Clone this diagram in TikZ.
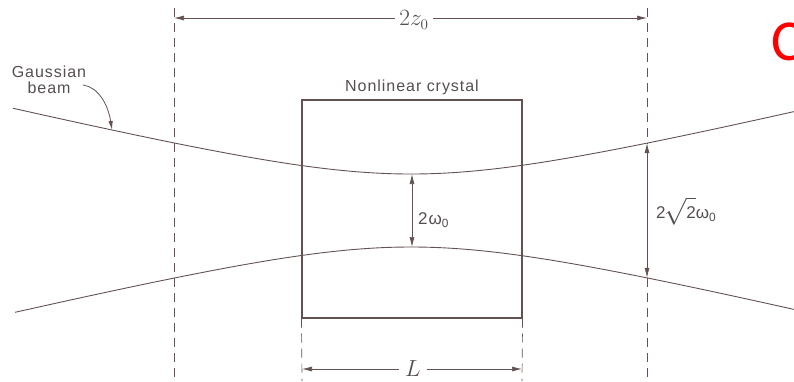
\documentclass[tikz,border=0pt]{standalone}
\usepackage{fontspec}
\setmainfont{Liberation Sans}[LetterSpace=6]
\newfontfamily\redfont{Carlito}
\usetikzlibrary{arrows.meta}
\definecolor{ink}{RGB}{100,82,82}
\definecolor{txt}{RGB}{85,78,78}
\begin{document}
\begin{tikzpicture}[x=1pt,y=-1pt,
  beam/.style={draw=ink, line width=0.9pt},
  dimline/.style={draw=ink, line width=0.7pt, dash pattern=on 9pt off 6pt},
  dimarrow/.style={draw=ink, line width=0.7pt, -{Latex[length=10pt,width=5pt]}},
  dimboth/.style={draw=ink, line width=0.7pt, {Latex[length=10pt,width=5pt]}-{Latex[length=10pt,width=5pt]}},
  lab/.style={text=txt, font=\fontsize{16}{18}\selectfont, inner sep=1pt},
  crystalbox/.style={draw=ink, line width=1.1pt, minimum width=220pt, minimum height=218pt, inner sep=0pt}]
\useasboundingbox (0,0) rectangle (794,381);

% beams
\draw[beam] plot[domain=13:794, samples=120, smooth] (\x, {210.5-10*sqrt(13.32+0.0576*((\x-411)/10)^2)});
\draw[beam] plot[domain=15:794, samples=120, smooth] (\x, {210.5+10*sqrt(13.32+0.0576*((\x-411)/10)^2)});

% crystal
\node[crystalbox] (crystal) at (412,209) {};
\node[lab, anchor=south] (clabel) at (412,96) {Nonlinear crystal};

% left dashed line
\coordinate (lt) at (174,8);
\coordinate (lb) at (174,381);
\draw[dimline] (lt) -- (lb);

% right dashed line with arrow
\coordinate (rtop) at (647,8);
\coordinate (rt) at (647,{210.5-10*sqrt(13.32+0.0576*23.6^2)});
\coordinate (rb) at (647,{210.5+10*sqrt(13.32+0.0576*23.6^2)});
\coordinate (rbot) at (647,381);
\draw[dimline] (rtop) -- (rt);
\draw[dimline] (rb) -- (rbot);
\draw[dimboth] (rt) -- (rb);
\node[lab, anchor=west, font=\fontsize{17}{19}\selectfont] (rlabel) at (655,211) {2\kern-1.5pt\scalebox{1.55}{$\sqrt{\mbox{\fontsize{11}{12}\selectfont 2}}$}ω\textsubscript{0}};

% top dimension 2z0
\node[lab, inner xsep=4pt] (tz) at (414,20) {\scalebox{1.35}{$2z_0$}};
\coordinate (ta) at (174,18);
\coordinate (tb) at (647,18);
\draw[dimarrow] (tz.west |- ta) -- (ta);
\draw[dimarrow] (tz.east |- tb) -- (tb);

% waist arrow
\coordinate (ct) at (412,174);
\coordinate (cb) at (412,247);
\draw[dimboth] (ct) -- (cb);
\node[lab, anchor=west, font=\fontsize{17}{19}\selectfont] (wlabel) at (417,220) {2ω\textsubscript{0}};

% bottom dimension L
\coordinate (bl) at (302,381);
\coordinate (br) at (522,381);
\draw[dimline] (crystal.south west) -- (bl);
\draw[dimline] (crystal.south east) -- (br);
\node[lab, inner xsep=6pt] (L) at (413,369) {\scalebox{1.35}{$L$}};
\coordinate (la) at (302,369);
\coordinate (lr) at (522,369);
\draw[dimarrow] (L.west |- la) -- (la);
\draw[dimarrow] (L.east |- lr) -- (lr);

% Gaussian beam label
\node[lab, align=center] (gb) at (49,80) {Gaussian\\[-2pt]beam};
\coordinate (gs) at (83,85);
\coordinate (gt) at (112,130);
\draw[draw=ink, line width=0.8pt, -{Latex[length=9pt,width=4.5pt]}] (gs) .. controls (98,87) and (108,104) .. (gt);

% red partial letter
\node[anchor=base west, inner sep=0pt, text=red, font=\redfont\fontsize{58}{58}\selectfont] (cc) at (771,60) {C};
\end{tikzpicture}
\end{document}
